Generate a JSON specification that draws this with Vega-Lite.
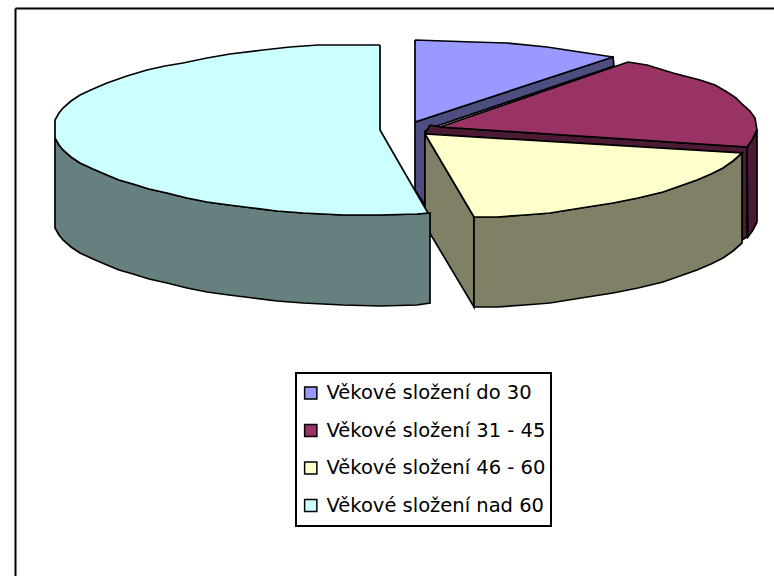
{"$schema":"https://vega.github.io/schema/vega-lite/v6.json","width":759,"height":568,"padding":{"left":15,"top":8,"right":0,"bottom":0},"autosize":{"type":"none"},"background":"white","config":{"view":{"stroke":null},"legend":{"strokeWidth":2}},
"data":{"values":[
{"p":"a1","c":"bok do 30","x":400,"y":114},{"p":"a1","c":"bok do 30","x":598,"y":49},{"p":"a1","c":"bok do 30","x":599,"y":58},{"p":"a1","c":"bok do 30","x":416,"y":120},{"p":"a1","c":"bok do 30","x":410,"y":123},{"p":"a1","c":"bok do 30","x":410,"y":197},{"p":"a1","c":"bok do 30","x":400,"y":182},{"p":"a1","c":"bok do 30","x":400,"y":114},
{"p":"a2","c":"Věkové složení do 30","x":400,"y":32},{"p":"a2","c":"Věkové složení do 30","x":458,"y":34},{"p":"a2","c":"Věkové složení do 30","x":492,"y":35},{"p":"a2","c":"Věkové složení do 30","x":532,"y":39},{"p":"a2","c":"Věkové složení do 30","x":565,"y":44},{"p":"a2","c":"Věkové složení do 30","x":598,"y":49},{"p":"a2","c":"Věkové složení do 30","x":400,"y":114},{"p":"a2","c":"Věkové složení do 30","x":400,"y":32},
{"p":"b1","c":"bok 31 - 45","x":415,"y":117},{"p":"b1","c":"bok 31 - 45","x":425,"y":119},{"p":"b1","c":"bok 31 - 45","x":732,"y":139},{"p":"b1","c":"bok 31 - 45","x":732,"y":229},{"p":"b1","c":"bok 31 - 45","x":727,"y":232},{"p":"b1","c":"bok 31 - 45","x":727,"y":145},{"p":"b1","c":"bok 31 - 45","x":410,"y":126},{"p":"b1","c":"bok 31 - 45","x":415,"y":117},
{"p":"b2","c":"bok 31 - 45","x":732,"y":139},{"p":"b2","c":"bok 31 - 45","x":737,"y":132},{"p":"b2","c":"bok 31 - 45","x":742,"y":122},{"p":"b2","c":"bok 31 - 45","x":742,"y":214},{"p":"b2","c":"bok 31 - 45","x":738,"y":222},{"p":"b2","c":"bok 31 - 45","x":733,"y":229},{"p":"b2","c":"bok 31 - 45","x":732,"y":139},
{"p":"b3","c":"Věkové složení 31 - 45","x":425,"y":119},{"p":"b3","c":"Věkové složení 31 - 45","x":613,"y":54},{"p":"b3","c":"Věkové složení 31 - 45","x":632,"y":57},{"p":"b3","c":"Věkové složení 31 - 45","x":658,"y":65},{"p":"b3","c":"Věkové složení 31 - 45","x":685,"y":72},{"p":"b3","c":"Věkové složení 31 - 45","x":700,"y":77},{"p":"b3","c":"Věkové složení 31 - 45","x":712,"y":84},{"p":"b3","c":"Věkové složení 31 - 45","x":721,"y":90},{"p":"b3","c":"Věkové složení 31 - 45","x":728,"y":97},{"p":"b3","c":"Věkové složení 31 - 45","x":735,"y":103},{"p":"b3","c":"Věkové složení 31 - 45","x":740,"y":110},{"p":"b3","c":"Věkové složení 31 - 45","x":742,"y":122},{"p":"b3","c":"Věkové složení 31 - 45","x":737,"y":132},{"p":"b3","c":"Věkové složení 31 - 45","x":732,"y":139},{"p":"b3","c":"Věkové složení 31 - 45","x":425,"y":119},
{"p":"c1","c":"bok 46 - 60","x":410,"y":126},{"p":"c1","c":"bok 46 - 60","x":459,"y":209},{"p":"c1","c":"bok 46 - 60","x":459,"y":299},{"p":"c1","c":"bok 46 - 60","x":410,"y":217},{"p":"c1","c":"bok 46 - 60","x":410,"y":126},
{"p":"c2","c":"bok 46 - 60","x":459,"y":209},{"p":"c2","c":"bok 46 - 60","x":482,"y":209},{"p":"c2","c":"bok 46 - 60","x":510,"y":207},{"p":"c2","c":"bok 46 - 60","x":535,"y":205},{"p":"c2","c":"bok 46 - 60","x":566,"y":200},{"p":"c2","c":"bok 46 - 60","x":598,"y":195},{"p":"c2","c":"bok 46 - 60","x":623,"y":190},{"p":"c2","c":"bok 46 - 60","x":648,"y":184},{"p":"c2","c":"bok 46 - 60","x":665,"y":178},{"p":"c2","c":"bok 46 - 60","x":682,"y":172},{"p":"c2","c":"bok 46 - 60","x":696,"y":166},{"p":"c2","c":"bok 46 - 60","x":708,"y":160},{"p":"c2","c":"bok 46 - 60","x":718,"y":153},{"p":"c2","c":"bok 46 - 60","x":727,"y":145},{"p":"c2","c":"bok 46 - 60","x":727,"y":235},{"p":"c2","c":"bok 46 - 60","x":718,"y":243},{"p":"c2","c":"bok 46 - 60","x":708,"y":250},{"p":"c2","c":"bok 46 - 60","x":696,"y":256},{"p":"c2","c":"bok 46 - 60","x":682,"y":262},{"p":"c2","c":"bok 46 - 60","x":665,"y":268},{"p":"c2","c":"bok 46 - 60","x":648,"y":274},{"p":"c2","c":"bok 46 - 60","x":623,"y":280},{"p":"c2","c":"bok 46 - 60","x":598,"y":285},{"p":"c2","c":"bok 46 - 60","x":566,"y":290},{"p":"c2","c":"bok 46 - 60","x":535,"y":295},{"p":"c2","c":"bok 46 - 60","x":510,"y":297},{"p":"c2","c":"bok 46 - 60","x":482,"y":299},{"p":"c2","c":"bok 46 - 60","x":459,"y":299},{"p":"c2","c":"bok 46 - 60","x":459,"y":209},
{"p":"c3","c":"Věkové složení 46 - 60","x":410,"y":126},{"p":"c3","c":"Věkové složení 46 - 60","x":727,"y":145},{"p":"c3","c":"Věkové složení 46 - 60","x":718,"y":153},{"p":"c3","c":"Věkové složení 46 - 60","x":708,"y":160},{"p":"c3","c":"Věkové složení 46 - 60","x":696,"y":166},{"p":"c3","c":"Věkové složení 46 - 60","x":682,"y":172},{"p":"c3","c":"Věkové složení 46 - 60","x":665,"y":178},{"p":"c3","c":"Věkové složení 46 - 60","x":648,"y":184},{"p":"c3","c":"Věkové složení 46 - 60","x":623,"y":190},{"p":"c3","c":"Věkové složení 46 - 60","x":598,"y":195},{"p":"c3","c":"Věkové složení 46 - 60","x":566,"y":200},{"p":"c3","c":"Věkové složení 46 - 60","x":535,"y":205},{"p":"c3","c":"Věkové složení 46 - 60","x":510,"y":207},{"p":"c3","c":"Věkové složení 46 - 60","x":482,"y":209},{"p":"c3","c":"Věkové složení 46 - 60","x":459,"y":209},{"p":"c3","c":"Věkové složení 46 - 60","x":410,"y":126},
{"p":"d1","c":"bok nad 60","x":40,"y":130},{"p":"d1","c":"bok nad 60","x":44,"y":137},{"p":"d1","c":"bok nad 60","x":48,"y":142},{"p":"d1","c":"bok nad 60","x":56,"y":149},{"p":"d1","c":"bok nad 60","x":65,"y":155},{"p":"d1","c":"bok nad 60","x":78,"y":161},{"p":"d1","c":"bok nad 60","x":92,"y":167},{"p":"d1","c":"bok nad 60","x":104,"y":172},{"p":"d1","c":"bok nad 60","x":118,"y":176},{"p":"d1","c":"bok nad 60","x":134,"y":181},{"p":"d1","c":"bok nad 60","x":152,"y":185},{"p":"d1","c":"bok nad 60","x":172,"y":190},{"p":"d1","c":"bok nad 60","x":192,"y":194},{"p":"d1","c":"bok nad 60","x":214,"y":197},{"p":"d1","c":"bok nad 60","x":238,"y":200},{"p":"d1","c":"bok nad 60","x":262,"y":203},{"p":"d1","c":"bok nad 60","x":288,"y":205},{"p":"d1","c":"bok nad 60","x":328,"y":207},{"p":"d1","c":"bok nad 60","x":365,"y":207},{"p":"d1","c":"bok nad 60","x":402,"y":206},{"p":"d1","c":"bok nad 60","x":415,"y":205},{"p":"d1","c":"bok nad 60","x":415,"y":295},{"p":"d1","c":"bok nad 60","x":402,"y":297},{"p":"d1","c":"bok nad 60","x":365,"y":298},{"p":"d1","c":"bok nad 60","x":328,"y":297},{"p":"d1","c":"bok nad 60","x":288,"y":295},{"p":"d1","c":"bok nad 60","x":262,"y":293},{"p":"d1","c":"bok nad 60","x":238,"y":290},{"p":"d1","c":"bok nad 60","x":214,"y":287},{"p":"d1","c":"bok nad 60","x":192,"y":284},{"p":"d1","c":"bok nad 60","x":172,"y":280},{"p":"d1","c":"bok nad 60","x":152,"y":275},{"p":"d1","c":"bok nad 60","x":134,"y":271},{"p":"d1","c":"bok nad 60","x":118,"y":266},{"p":"d1","c":"bok nad 60","x":104,"y":262},{"p":"d1","c":"bok nad 60","x":92,"y":257},{"p":"d1","c":"bok nad 60","x":78,"y":251},{"p":"d1","c":"bok nad 60","x":65,"y":245},{"p":"d1","c":"bok nad 60","x":56,"y":239},{"p":"d1","c":"bok nad 60","x":48,"y":232},{"p":"d1","c":"bok nad 60","x":44,"y":227},{"p":"d1","c":"bok nad 60","x":40,"y":220},{"p":"d1","c":"bok nad 60","x":40,"y":130},
{"p":"d2","c":"Věkové složení nad 60","x":365,"y":37},{"p":"d2","c":"Věkové složení nad 60","x":303,"y":37},{"p":"d2","c":"Věkové složení nad 60","x":275,"y":39},{"p":"d2","c":"Věkové složení nad 60","x":248,"y":42},{"p":"d2","c":"Věkové složení nad 60","x":215,"y":46},{"p":"d2","c":"Věkové složení nad 60","x":192,"y":50},{"p":"d2","c":"Věkové složení nad 60","x":168,"y":55},{"p":"d2","c":"Věkové složení nad 60","x":150,"y":58},{"p":"d2","c":"Věkové složení nad 60","x":132,"y":62},{"p":"d2","c":"Věkové složení nad 60","x":112,"y":68},{"p":"d2","c":"Věkové složení nad 60","x":92,"y":75},{"p":"d2","c":"Věkové složení nad 60","x":78,"y":81},{"p":"d2","c":"Věkové složení nad 60","x":65,"y":87},{"p":"d2","c":"Věkové složení nad 60","x":56,"y":93},{"p":"d2","c":"Věkové složení nad 60","x":48,"y":100},{"p":"d2","c":"Věkové složení nad 60","x":44,"y":105},{"p":"d2","c":"Věkové složení nad 60","x":40,"y":112},{"p":"d2","c":"Věkové složení nad 60","x":40,"y":130},{"p":"d2","c":"Věkové složení nad 60","x":44,"y":137},{"p":"d2","c":"Věkové složení nad 60","x":48,"y":142},{"p":"d2","c":"Věkové složení nad 60","x":56,"y":149},{"p":"d2","c":"Věkové složení nad 60","x":65,"y":155},{"p":"d2","c":"Věkové složení nad 60","x":78,"y":161},{"p":"d2","c":"Věkové složení nad 60","x":92,"y":167},{"p":"d2","c":"Věkové složení nad 60","x":104,"y":172},{"p":"d2","c":"Věkové složení nad 60","x":118,"y":176},{"p":"d2","c":"Věkové složení nad 60","x":134,"y":181},{"p":"d2","c":"Věkové složení nad 60","x":152,"y":185},{"p":"d2","c":"Věkové složení nad 60","x":172,"y":190},{"p":"d2","c":"Věkové složení nad 60","x":192,"y":194},{"p":"d2","c":"Věkové složení nad 60","x":214,"y":197},{"p":"d2","c":"Věkové složení nad 60","x":238,"y":200},{"p":"d2","c":"Věkové složení nad 60","x":262,"y":203},{"p":"d2","c":"Věkové složení nad 60","x":288,"y":205},{"p":"d2","c":"Věkové složení nad 60","x":328,"y":207},{"p":"d2","c":"Věkové složení nad 60","x":365,"y":207},{"p":"d2","c":"Věkové složení nad 60","x":402,"y":206},{"p":"d2","c":"Věkové složení nad 60","x":413,"y":205},{"p":"d2","c":"Věkové složení nad 60","x":365,"y":122},{"p":"d2","c":"Věkové složení nad 60","x":365,"y":37}
]},
"mark":{"type":"line","stroke":"#000","strokeWidth":1.7,"strokeJoin":"miter","interpolate":"linear"},
"encoding":{
"x":{"field":"x","type":"quantitative","scale":{"domain":[0,759],"nice":false,"zero":false},"axis":{"orient":"top","title":null,"labels":false,"ticks":false,"grid":false,"domainColor":"#000","domainWidth":2}},
"y":{"field":"y","type":"quantitative","scale":{"domain":[0,568],"reverse":true,"nice":false,"zero":false},"axis":{"orient":"left","title":null,"labels":false,"ticks":false,"grid":false,"domainColor":"#000","domainWidth":2}},
"detail":{"field":"p"},
"order":{"value":null},
"fill":{"field":"c","type":"nominal","scale":{"domain":["Věkové složení do 30","Věkové složení 31 - 45","Věkové složení 46 - 60","Věkové složení nad 60","bok do 30","bok 31 - 45","bok 46 - 60","bok nad 60"],"range":["#9999FF","#993366","#FFFFCC","#CCFFFF","#4D4D80","#4D1A33","#808066","#668080"]},
"legend":{"title":null,"values":["Věkové složení do 30","Věkové složení 31 - 45","Věkové složení 46 - 60","Věkové složení nad 60"],"orient":"none","legendX":281,"legendY":365,"padding":5,"strokeColor":"#000","fillColor":"#fff","symbolType":"square","symbolSize":150,"symbolStrokeColor":"#000","symbolStrokeWidth":1.5,"symbolOpacity":1,"labelFont":"DejaVu Sans","labelFontSize":19.5,"labelColor":"#000","labelOffset":6,"labelLimit":300,"rowPadding":7.5,"clipHeight":30}}
}}
